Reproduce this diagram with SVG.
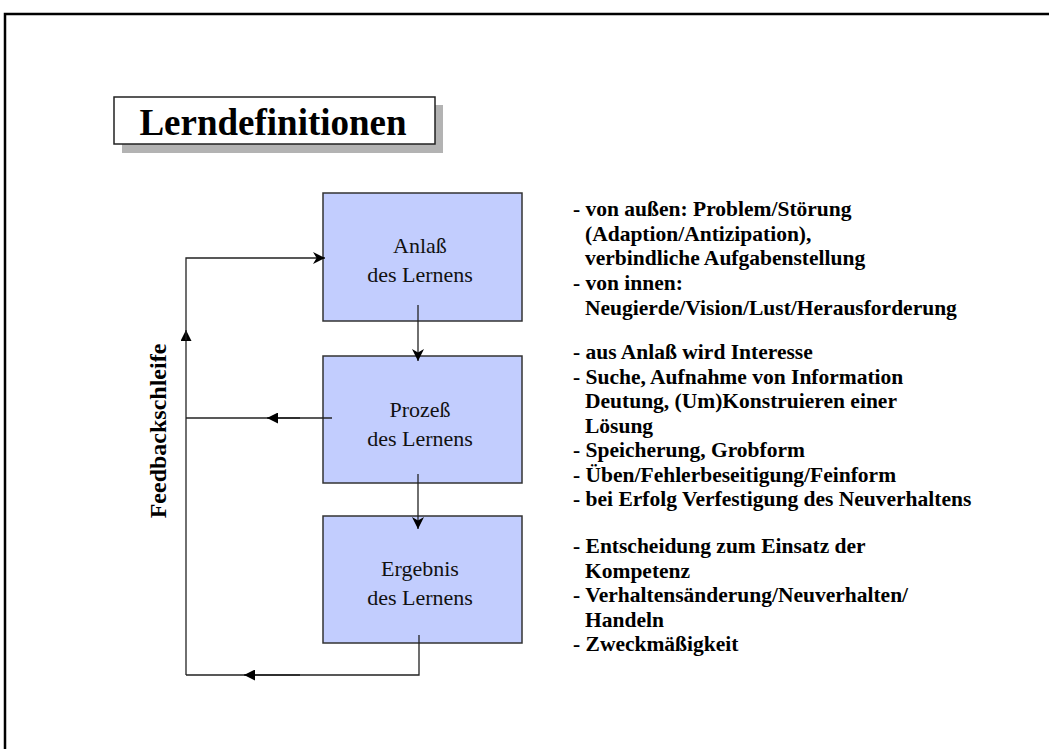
<svg xmlns="http://www.w3.org/2000/svg" width="1049" height="749" viewBox="0 0 1049 749">
  <defs>
    <marker id="arrow" viewBox="0 0 10 10" refX="10" refY="5" markerWidth="14" markerHeight="12" markerUnits="userSpaceOnUse" orient="auto">
      <path d="M0,0 L10,5 L0,10 L3,5 z" fill="#000"/>
    </marker>
    <marker id="tri" viewBox="0 0 10 10" refX="10" refY="5" markerWidth="12" markerHeight="11" markerUnits="userSpaceOnUse" orient="auto">
      <path d="M0,0 L10,5 L0,10 z" fill="#000"/>
    </marker>
  </defs>
  <style>
    .frame { fill: none; stroke: #000; stroke-width: 2.5; }
    .box { fill: #c2cdfe; stroke: #333; stroke-width: 1.5; }
    .line { fill: none; stroke: #222; stroke-width: 1.3; }
    .boxtext { font-family: "Liberation Serif", "Times New Roman", serif; font-size: 22px; fill: #111; text-anchor: middle; }
    .note { font-family: "Liberation Serif", "Times New Roman", serif; font-size: 21.5px; font-weight: bold; fill: #000; }
    .title { font-family: "Liberation Serif", "Times New Roman", serif; font-size: 37px; font-weight: bold; fill: #000; }
  </style>
  <rect width="1049" height="749" fill="#fff"/>

  <!-- page frame -->
  <path class="frame" d="M5,749 L5,14 L1049,14"/>

  <!-- heading -->
  <g id="title">
    <rect x="122" y="105" width="321" height="48" fill="#b3b3b3"/>
    <rect x="114" y="97" width="321" height="47" fill="#fff" stroke="#222" stroke-width="1.5"/>
    <text class="title" x="273" y="135" text-anchor="middle">Lerndefinitionen</text>
  </g>

  <!-- nodes -->
  <g id="anlass">
    <rect class="box" x="323" y="193" width="199" height="128"/>
    <text class="boxtext" x="420" y="253">Anlaß</text>
    <text class="boxtext" x="420" y="282">des Lernens</text>
  </g>
  <g id="prozess">
    <rect class="box" x="323" y="356" width="199" height="127"/>
    <text class="boxtext" x="420" y="417">Prozeß</text>
    <text class="boxtext" x="420" y="446">des Lernens</text>
  </g>
  <g id="ergebnis">
    <rect class="box" x="323" y="516" width="199" height="127"/>
    <text class="boxtext" x="420" y="576">Ergebnis</text>
    <text class="boxtext" x="420" y="605">des Lernens</text>
  </g>

  <!-- connectors (drawn over the boxes, as their ends reach inside them) -->
  <g id="connectors">
    <line class="line" x1="418" y1="305" x2="418" y2="361" marker-end="url(#arrow)"/>
    <line class="line" x1="418" y1="474" x2="418" y2="529" marker-end="url(#arrow)"/>
    <polyline class="line" points="419,635 419,675 186,675"/>
    <line class="line" x1="300" y1="675" x2="244" y2="675" marker-end="url(#tri)"/>
    <line class="line" x1="186" y1="675" x2="186" y2="330" marker-end="url(#tri)"/>
    <line class="line" x1="186" y1="418" x2="332" y2="418"/>
    <line class="line" x1="300" y1="418" x2="267" y2="418" marker-end="url(#tri)"/>
    <polyline class="line" points="186,340 186,258 325,258" marker-end="url(#arrow)"/>
    <text x="166" y="431" transform="rotate(-90 166 431)" text-anchor="middle" font-family="'Liberation Serif', 'Times New Roman', serif" font-size="24" font-weight="bold">Feedbackschleife</text>
  </g>

  <!-- descriptions -->
  <g id="anlass-notes">
    <text class="note" x="573" y="216">- von außen: Problem/Störung</text>
    <text class="note" x="585" y="241">(Adaption/Antizipation),</text>
    <text class="note" x="585" y="265">verbindliche Aufgabenstellung</text>
    <text class="note" x="573" y="290">- von innen:</text>
    <text class="note" x="585" y="315">Neugierde/Vision/Lust/Herausforderung</text>
  </g>
  <g id="prozess-notes">
    <text class="note" x="573" y="359">- aus Anlaß wird Interesse</text>
    <text class="note" x="573" y="384">- Suche, Aufnahme von Information</text>
    <text class="note" x="585" y="408">Deutung, (Um)Konstruieren einer</text>
    <text class="note" x="585" y="433">Lösung</text>
    <text class="note" x="573" y="457">- Speicherung, Grobform</text>
    <text class="note" x="573" y="482">- Üben/Fehlerbeseitigung/Feinform</text>
    <text class="note" x="573" y="506">- bei Erfolg Verfestigung des Neuverhaltens</text>
  </g>
  <g id="ergebnis-notes">
    <text class="note" x="573" y="553">- Entscheidung zum Einsatz der</text>
    <text class="note" x="585" y="578">Kompetenz</text>
    <text class="note" x="573" y="602">- Verhaltensänderung/Neuverhalten/</text>
    <text class="note" x="585" y="627">Handeln</text>
    <text class="note" x="573" y="651">- Zweckmäßigkeit</text>
  </g>
</svg>
